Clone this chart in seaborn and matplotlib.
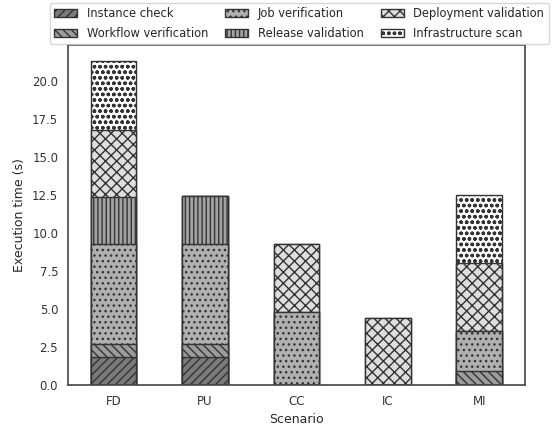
import matplotlib
matplotlib.use("Agg")
import matplotlib.pyplot as plt
import numpy as np
import pandas as pd
import seaborn as sns
from matplotlib.patches import Patch

scenarios = ["FD", "PU", "CC", "IC", "MI"]
stages = ["Instance check", "Workflow verification", "Job verification",
          "Release validation", "Deployment validation", "Infrastructure scan"]
instance_check = [1.8, 1.8, 0.0, 0.0, 0.0]
workflow_verification = [0.9, 0.9, 0.0, 0.0, 0.9]
job_verification = [6.6, 6.6, 4.8, 0.0, 2.65]
release_validation = [3.05, 3.1, 0.0, 0.0, 0.0]
deployment_validation = [4.45, 0.0, 4.5, 4.4, 4.45]
infrastructure_scan = [4.5, 0.0, 0.0, 0.0, 4.5]

series = [instance_check, workflow_verification, job_verification,
          release_validation, deployment_validation, infrastructure_scan]
fills = ["#7a7a7a", "#9c9c9c", "#b0b0b0", "#a3a3a3", "#dedede", "#ffffff"]
hatches = ["////", "\\\\\\\\", "...", "||||", "xxx", "ooo"]

sns.set_style("white")
plt.rcParams["hatch.linewidth"] = 1.0
plt.rcParams["hatch.color"] = "#111111"

fig, ax = plt.subplots(figsize=(5.52, 4.29), dpi=100)

cum = np.cumsum(np.array(series), axis=0)
# draw cumulative totals from the top layer down so each stage sits on the previous
for i in range(len(stages) - 1, -1, -1):
    df = pd.DataFrame({"Scenario": scenarios, "total": cum[i]})
    sns.barplot(data=df, x="Scenario", y="total", ax=ax, width=0.5,
                color=fills[i], saturation=1, edgecolor="#333333",
                linewidth=1.0, hatch=hatches[i])
    for p in ax.patches[-len(scenarios):]:
        p.set_facecolor(fills[i])
        p.set_hatch(hatches[i])

ax.set_xlim(-0.5, 4.5)
ax.set_ylim(0, cum[-1].max() * 1.05)
ax.set_yticks(np.arange(0, 21, 2.5))
ax.set_xlabel("Scenario", fontsize=9)
ax.set_ylabel("Execution time (s)", fontsize=9)
ax.tick_params(labelsize=8.5, colors="#333333")
for s in ax.spines.values():
    s.set_color("#444444")
    s.set_linewidth(1.2)

handles = [Patch(facecolor=fills[i], edgecolor="#333333", hatch=hatches[i],
                 label=stages[i]) for i in range(len(stages))]
fig.legend(handles=handles, ncol=3, loc="upper center",
           bbox_to_anchor=(0.542, 1.0), fontsize=8.3, frameon=True,
           handlelength=2.0, columnspacing=1.5, labelspacing=0.55,
           borderaxespad=0.25)

fig.subplots_adjust(left=0.123, right=0.951, top=0.895, bottom=0.103)
fig.savefig("out.png", dpi=100)
